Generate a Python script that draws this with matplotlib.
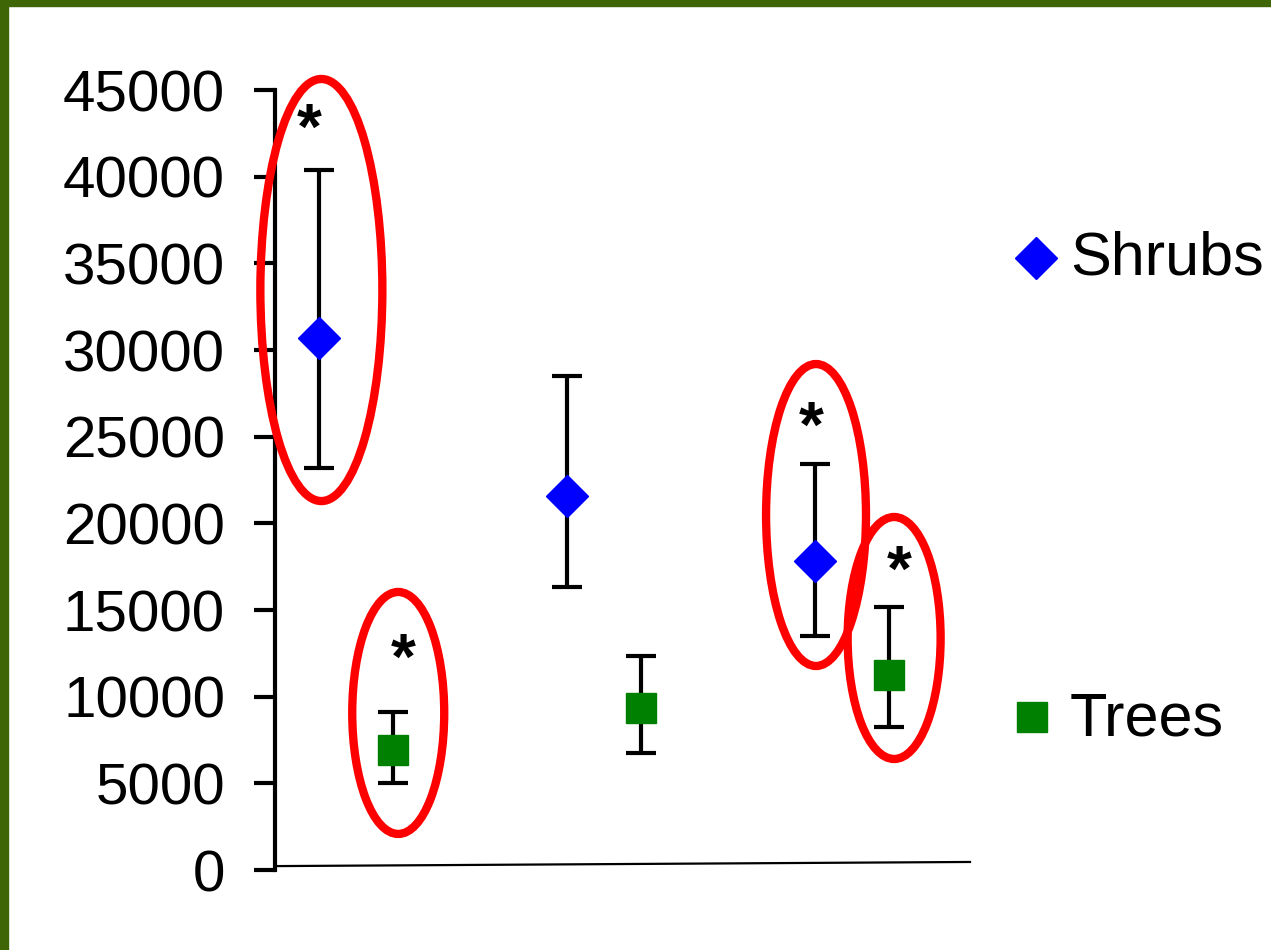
import matplotlib
matplotlib.use('Agg')
import matplotlib.pyplot as plt
import numpy as np
from matplotlib.patches import Ellipse, Rectangle
from matplotlib.lines import Line2D

plt.rcParams['font.family'] = ['Liberation Sans', 'DejaVu Sans']

# ---- data ----
groups = [1, 2, 3]
shrub_mean = [30700, 21600, 17800]
shrub_low = [23200, 16300, 13500]
shrub_high = [40400, 28500, 23400]
tree_mean = [6950, 9350, 11250]
tree_low = [5000, 6750, 8250]
tree_high = [9100, 12350, 15150]
yticks = [0, 5000, 10000, 15000, 20000, 25000, 30000, 35000, 40000, 45000]
series_names = ['Shrubs', 'Trees']

# ---- figure ----
W, H = 1271, 950
fig = plt.figure(figsize=(W / 100, H / 100), dpi=100)
fig.patch.set_facecolor('white')

# green slide border
green = '#3e6506'
fig.patches.append(Rectangle((0, 0), 8 / W, 1, transform=fig.transFigure, color=green, zorder=0))
fig.patches.append(Rectangle((0, 1 - 6 / H), 1, 6 / H, transform=fig.transFigure, color=green, zorder=0))

ax = fig.add_axes([275 / W, 80 / H, 695 / W, 780 / H])
ax.set_facecolor('none')

off = 0.15
xs = np.array(groups) - off
xt = np.array(groups) + off
sm, sl, sh = map(np.array, (shrub_mean, shrub_low, shrub_high))
tm, tl, th = map(np.array, (tree_mean, tree_low, tree_high))

ax.errorbar(xs, sm, yerr=[sm - sl, sh - sm], fmt='none', ecolor='black',
            elinewidth=3, capsize=10.5, capthick=3, zorder=3)
ax.errorbar(xt, tm, yerr=[tm - tl, th - tm], fmt='none', ecolor='black',
            elinewidth=3, capsize=10.5, capthick=3, zorder=3)
ax.plot(xs, sm, linestyle='none', marker='D', ms=21.5, color='#0000ff', mec='#0000ff', zorder=4)
ax.plot(xt, tm, linestyle='none', marker='s', ms=22, color='#008000', mec='#008000', zorder=4)

# significance ellipses (annotation geometry)
ell_specs = [
    (xs[0] + 0.01, 33460, 0.492, 24350),
    (xt[0] + 0.02, 9060, 0.371, 13960),
    (xs[2] + 0.005, 20480, 0.403, 17420),
    (xt[2] + 0.02, 13385, 0.375, 13960),
]
for cx, cy, w, h in ell_specs:
    ax.add_patch(Ellipse((cx, cy), w, h, fill=False, edgecolor='#ff0000', lw=6,
                         zorder=5, clip_on=False))

star_specs = [
    (xs[0] - 0.04, 43270),
    (xt[0] + 0.04, 12690),
    (xs[2] - 0.016, 26080),
    (xt[2] + 0.04, 17770),
]
for sx, sy in star_specs:
    ax.annotate('*', (sx, sy), xytext=(0, -21), textcoords='offset points',
                ha='center', va='baseline', fontsize=46, fontweight='bold',
                color='black', zorder=6, annotation_clip=False)

ax.set_xlim(0.673, 3.476)
ax.set_ylim(0, 45000)
ax.set_yticks(yticks)
ax.set_yticklabels([str(v) for v in yticks])
ax.set_xticks([])
ax.tick_params(axis='y', direction='out', length=15, width=3, pad=21, labelsize=42, colors='black')
for s in ['top', 'right', 'bottom']:
    ax.spines[s].set_visible(False)
ax.spines['left'].set_linewidth(3)
ax.plot([0, 1], [0.005, 0.0103], transform=ax.transAxes, color='black', lw=1.6, clip_on=False)

# legend (manually placed)
fig.add_artist(Line2D([1036 / W], [1 - 258 / H], transform=fig.transFigure, marker='D',
                      ms=21.5, color='#0000ff', linestyle='none'))
fig.text(1070 / W, 1 - 259 / H, series_names[0], fontsize=44, va='center', ha='left')
fig.add_artist(Line2D([1032 / W], [1 - 717 / H], transform=fig.transFigure, marker='s',
                      ms=22, color='#008000', linestyle='none'))
fig.text(1070 / W, 1 - 720 / H, series_names[1], fontsize=44, va='center', ha='left')

fig.savefig('out.png', dpi=100, facecolor='white')
